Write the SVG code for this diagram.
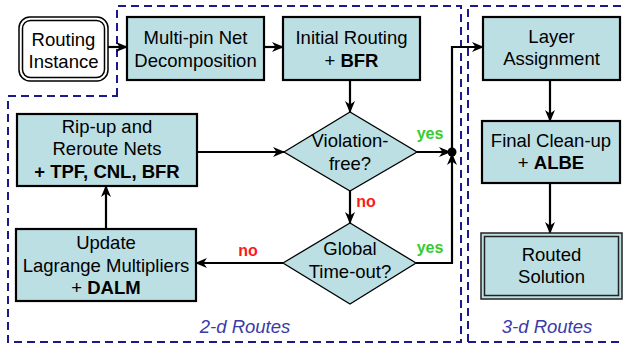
<svg xmlns="http://www.w3.org/2000/svg" width="624" height="346" viewBox="0 0 624 346">
<defs>
<style>
.box{fill:#bcdfe3;stroke:#000;stroke-width:2.2}
.dia{fill:#bcdfe3;stroke:#000;stroke-width:1.3}
.t{font-family:"Liberation Sans",Arial,sans-serif;font-size:18.5px;fill:#000;text-anchor:middle}
.b{font-weight:bold}
.lbl{font-family:"Liberation Sans",Arial,sans-serif;font-size:16px;font-weight:bold}
.yes{fill:#33cc33}
.no{fill:#ff1a1a}
.reg{font-family:"Liberation Sans",Arial,sans-serif;font-size:18.5px;font-style:italic;fill:#3a3aa8;text-anchor:middle}
.dash{fill:none;stroke:#1a1a8c;stroke-width:2;stroke-dasharray:8,5}
.c{fill:none;stroke:#000;stroke-width:2.2;marker-end:url(#ah)}
</style>
<marker id="ah" viewBox="0 0 12 10" refX="11" refY="5" markerWidth="12" markerHeight="10" markerUnits="userSpaceOnUse" orient="auto">
<path d="M0,0 L12,5 L0,10 L3.5,5 Z" fill="#000"/>
</marker>
</defs>
<rect width="624" height="346" fill="#fff"/>
<g id="regions">
<path class="dash" d="M117,96 V6 H461 V342 H8 V96 Z"/>
<path class="dash" d="M468,342 V6 H630"/>
<path class="dash" d="M468,342 H630"/>
<text class="reg" x="245" y="333">2-d Routes</text>
<text class="reg" x="547" y="333">3-d Routes</text>
</g>
<g id="connectors">
<line class="c" x1="108" y1="47" x2="127" y2="47"/>
<line class="c" x1="264" y1="47" x2="283" y2="47"/>
<line class="c" x1="350" y1="80" x2="350" y2="112"/>
<line class="c" x1="197" y1="152" x2="284" y2="152"/>
<line class="c" x1="350" y1="191" x2="350" y2="223"/>
<line class="c" x1="283" y1="263" x2="196" y2="263"/>
<line class="c" x1="106" y1="229" x2="106" y2="186"/>
<line class="c" x1="417" y1="152" x2="450" y2="152"/>
<polyline class="c" points="416,263 452,263 452,154"/>
<polyline class="c" points="452,152 452,47 483,47"/>
<circle cx="452" cy="152" r="4.5" fill="#000"/>
<line class="c" x1="550" y1="80" x2="550" y2="121"/>
<line class="c" x1="550" y1="183" x2="550" y2="233"/>
<text class="lbl yes" x="430" y="139" text-anchor="middle">yes</text>
<text class="lbl no" x="366" y="207" text-anchor="middle">no</text>
<text class="lbl no" x="248" y="256" text-anchor="middle">no</text>
<text class="lbl yes" x="430" y="253" text-anchor="middle">yes</text>
</g>
<g id="routing-instance">
<rect x="19" y="17" width="89" height="64" rx="11" fill="#fff" stroke="#000" stroke-width="1.5"/>
<rect x="22.5" y="20.5" width="82" height="57" rx="8" fill="none" stroke="#000" stroke-width="1.5"/>
<text class="t" x="63.5" y="46">Routing</text>
<text class="t" x="63.5" y="68">Instance</text>
</g>
<g id="multipin">
<rect class="box" x="127" y="17" width="137" height="63"/>
<text class="t" x="195.5" y="44">Multi-pin Net</text>
<text class="t" x="195.5" y="67">Decomposition</text>
</g>
<g id="initial-routing">
<rect class="box" x="283" y="17" width="137" height="63"/>
<text class="t" x="351.5" y="44">Initial Routing</text>
<text class="t" x="351.5" y="67">+ <tspan class="b">BFR</tspan></text>
</g>
<g id="ripup">
<rect class="box" x="17" y="114" width="180" height="72"/>
<text class="t" x="107" y="133">Rip-up and</text>
<text class="t" x="107" y="155">Reroute Nets</text>
<text class="t b" x="107" y="178">+ TPF, CNL, BFR</text>
</g>
<g id="violation">
<polygon class="dia" points="284,152 350,112 417,152 350,191"/>
<text class="t" x="350" y="147">Violation-</text>
<text class="t" x="350" y="170">free?</text>
</g>
<g id="timeout">
<polygon class="dia" points="283,263 350,223 416,263 350,304"/>
<text class="t" x="350" y="255">Global</text>
<text class="t" x="350" y="278">Time-out?</text>
</g>
<g id="update">
<rect class="box" x="16" y="229" width="180" height="72"/>
<text class="t" x="106" y="249">Update</text>
<text class="t" x="106" y="272">Lagrange Multipliers</text>
<text class="t" x="106" y="294">+ <tspan class="b">DALM</tspan></text>
</g>
<g id="layer">
<rect class="box" x="483" y="17" width="137" height="63"/>
<text class="t" x="551.5" y="43">Layer</text>
<text class="t" x="551.5" y="65">Assignment</text>
</g>
<g id="cleanup">
<rect class="box" x="482" y="121" width="138" height="62"/>
<text class="t" x="551" y="147">Final Clean-up</text>
<text class="t" x="551" y="169">+ <tspan class="b">ALBE</tspan></text>
</g>
<g id="routed">
<rect x="481" y="233" width="141" height="66" fill="#bcdfe3" stroke="#222" stroke-width="1.5"/>
<rect x="484.5" y="236.5" width="134" height="59" fill="none" stroke="#222" stroke-width="1.5"/>
<text class="t" x="551.5" y="261">Routed</text>
<text class="t" x="551.5" y="283">Solution</text>
</g>
</svg>
